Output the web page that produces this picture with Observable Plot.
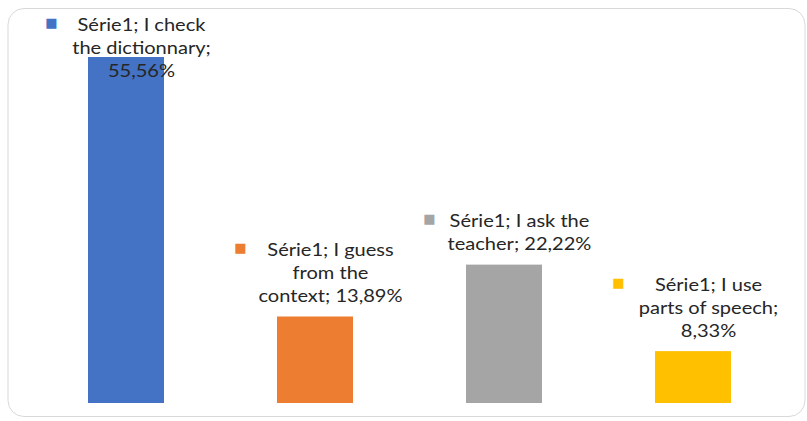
<!DOCTYPE html>
<html><head><meta charset="utf-8">
<script src="https://cdn.jsdelivr.net/npm/d3@7"></script>
<script src="https://cdn.jsdelivr.net/npm/@observablehq/plot@0.6"></script>
<style>body{margin:0;background:#fff;}</style>
</head><body><div id="chart"></div>
<script>
const series = "Série1";
const categories = ["I check the dictionnary", "I guess from the context", "I ask the teacher", "I use parts of speech"];
const values = [55.56, 13.89, 22.22, 8.33];
const labels = [
  "Série1; I check\nthe dictionnary;\n55,56%",
  "Série1; I guess\nfrom the\ncontext; 13,89%",
  "Série1; I ask the\nteacher; 22,22%",
  "Série1; I use\nparts of speech;\n8,33%"
];
const colors = ["#4472C4", "#ED7D31", "#A5A5A5", "#FFC000"];

const data = categories.map((c, i) => ({
  category: c, value: values[i], label: labels[i],
  marker: "■" + "\n".repeat(labels[i].split("\n").length - 1)
}));

const FS = 17, LH = 23;
const MFS = 13;
const textStyle = {fontFamily: "Lato", fontSize: FS, lineHeight: LH / FS, fill: "#262626", textAnchor: "middle", lineAnchor: "bottom", dx: 15};
const markStyle = {fontFamily: "DejaVu Sans", fontSize: MFS, lineHeight: LH / MFS, fill: "category", textAnchor: "middle", lineAnchor: "bottom", dx: -75};
const fits = d => d.value < 50;

const chart = Plot.plot({
  width: 807, height: 421,
  marginLeft: 31.5, marginRight: 19, marginTop: 57, marginBottom: 18,
  x: {domain: categories, axis: null, paddingInner: 0.6, paddingOuter: 0.3},
  y: {domain: [0, d3.max(values)], axis: null},
  color: {domain: categories, range: colors},
  marks: [
    Plot.frame({stroke: "#d9d9d9", rx: 16, insetLeft: -24, insetTop: -49, insetRight: -16.5, insetBottom: -13}),
    Plot.barY(data, {x: "category", y: "value", fill: "category"}),
    Plot.text(data, {filter: fits, x: "category", y: "value", text: "label", ...textStyle, dy: -15}),
    Plot.text(data, {filter: d => !fits(d), x: "category", frameAnchor: "top", text: "label", ...textStyle, dy: 19}),
    Plot.text(data, {filter: fits, x: "category", y: "value", text: "marker", ...markStyle, dy: -19}),
    Plot.text(data, {filter: d => !fits(d), x: "category", frameAnchor: "top", text: "marker", ...markStyle, dy: 15})
  ]
});
document.getElementById("chart").appendChild(chart);
chart.querySelectorAll("text").forEach(t => {
  if (!t.textContent.includes("■")) {
    t.setAttribute("transform", (t.getAttribute("transform") || "") + " scale(1.18,1)");
  }
});
</script>
</body></html>
